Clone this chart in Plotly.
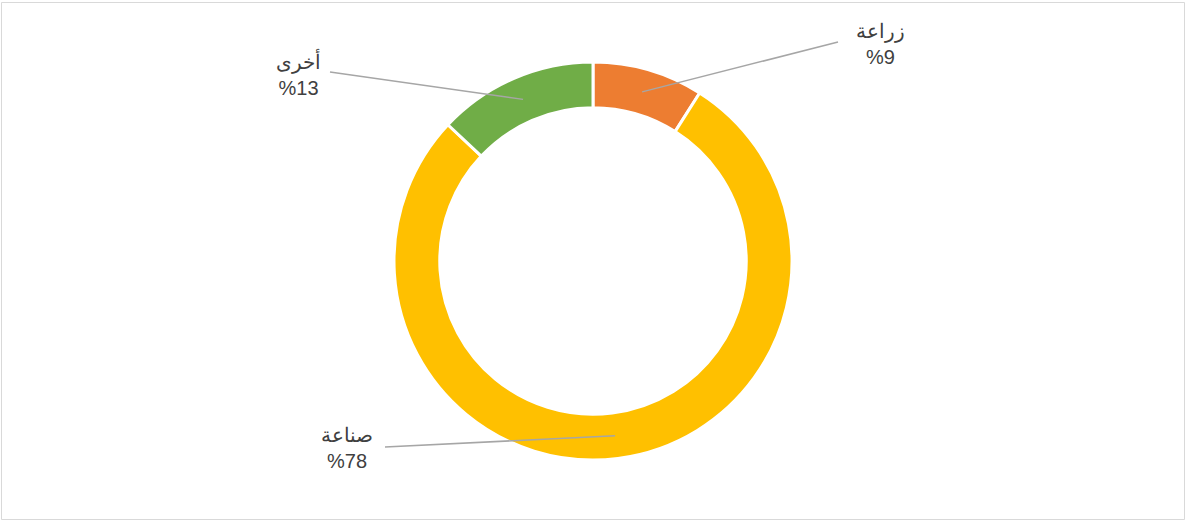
import math
import plotly.graph_objects as go

labels = ["زراعة", "صناعة", "أخرى"]
values = [9, 78, 13]
colors = ["#ED7D31", "#FFC000", "#70AD47"]
text_labels = ["زراعة<br>%9", "صناعة<br>%78", "أخرى<br>%13"]
label_px = [(880, 44), (347, 448), (298, 74)]   # label centers (pixels)
line_start_px = [(838, 42), (385, 447), (330, 72)]

W, H = 1188, 523
cx, cy, r_outer = 593, 261, 199
hole = 0.77
r_mid = r_outer * (1 + hole) / 2

fig = go.Figure(go.Pie(
    labels=labels, values=values, sort=False, direction="clockwise", rotation=0,
    hole=hole, marker=dict(colors=colors, line=dict(color="white", width=3)),
    textinfo="none", hoverinfo="label+percent", showlegend=False,
    domain=dict(x=[(cx - r_outer) / W, (cx + r_outer) / W],
                y=[1 - (cy + r_outer) / H, 1 - (cy - r_outer) / H]),
))

def px2paper(x, y):
    return x / W, 1 - y / H

total = sum(values)
cum = 0
shapes = []
annotations = []
for i, v in enumerate(values):
    mid = (cum + v / 2) / total * 2 * math.pi
    cum += v
    ax_ = cx + r_mid * math.sin(mid)
    ay_ = cy - r_mid * math.cos(mid)
    x0, y0 = px2paper(*line_start_px[i])
    x1, y1 = px2paper(ax_, ay_)
    shapes.append(dict(type="line", xref="paper", yref="paper", x0=x0, y0=y0, x1=x1, y1=y1,
                       line=dict(color="#A6A6A6", width=1.5)))
    lx, ly = px2paper(*label_px[i])
    annotations.append(dict(x=lx, y=ly, xref="paper", yref="paper", text=text_labels[i],
                            showarrow=False, xanchor="center", yanchor="middle", align="center",
                            font=dict(family="Liberation Sans, Arial, sans-serif", size=20, color="#404040")))

shapes.append(dict(type="rect", xref="paper", yref="paper",
                   x0=1.5 / W, x1=1184.5 / W, y0=1 - 519.5 / H, y1=1 - 2.5 / H,
                   line=dict(color="#D9D9D9", width=1)))

fig.update_layout(width=W, height=H, margin=dict(l=0, r=0, t=0, b=0),
                  paper_bgcolor="white", plot_bgcolor="white",
                  shapes=shapes, annotations=annotations)
fig.write_html("out.html", config={"displayModeBar": False},
               post_script="document.body.style.margin='0';document.body.style.overflow='hidden';")
